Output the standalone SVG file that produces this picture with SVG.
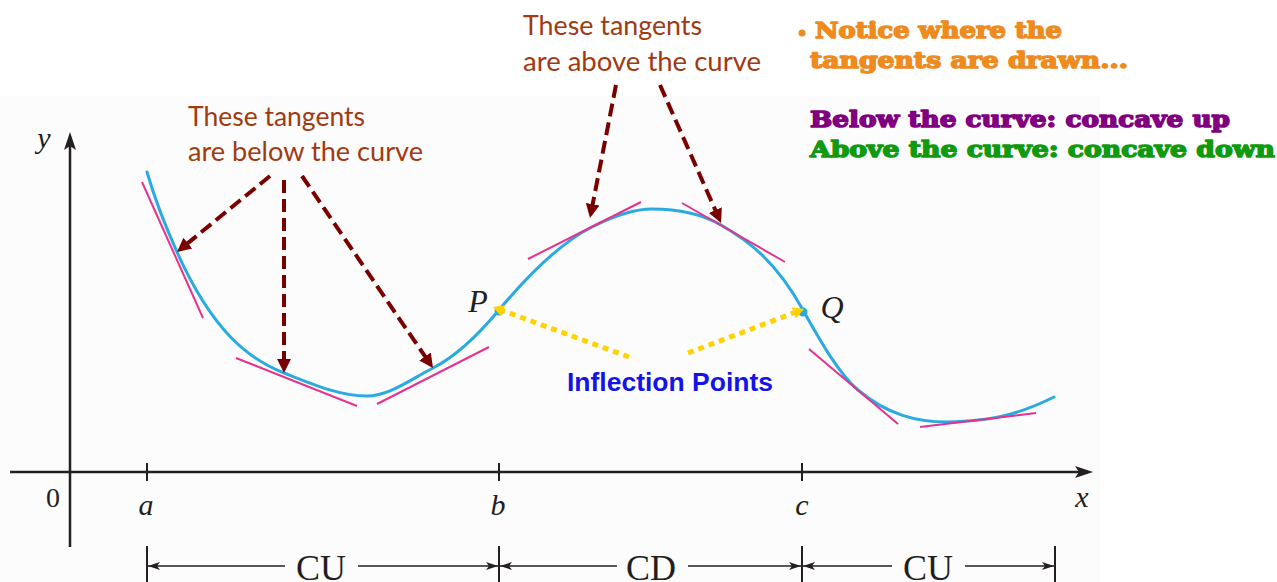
<svg xmlns="http://www.w3.org/2000/svg" width="1277" height="582" viewBox="0 0 1277 582">
<defs>
<style>
.axis{stroke:#231f20;stroke-width:2.5;fill:none}
.tick{stroke:#231f20;stroke-width:2;fill:none}
.dim{stroke:#231f20;stroke-width:1.6;fill:none}
.curve{stroke:#29aae1;stroke-width:3;fill:none;stroke-linecap:round}
.tan{stroke:#e6328c;stroke-width:2;fill:none}
.darr{stroke:#7a0000;stroke-width:4;fill:none;stroke-dasharray:13 6}
.yarr{stroke:#ffd200;stroke-width:5;fill:none;stroke-dasharray:6 5}
.math{font-family:"Liberation Serif","Times New Roman",serif;fill:#231f20}
.lbl{font-family:Lato,"Open Sans",sans-serif;font-size:26px;fill:#a13a10}
.note{font-family:"DejaVu Serif",serif;font-weight:bold;font-size:22px;stroke-width:1.5;stroke-linejoin:round;paint-order:stroke}
</style>
<marker id="mdark" markerUnits="userSpaceOnUse" markerWidth="16" markerHeight="16" viewBox="0 0 16 16" refX="2" refY="8" orient="auto">
<path d="M0,1 L14,8 L0,15 z" fill="#7a0000"/>
</marker>
<marker id="myel" markerUnits="userSpaceOnUse" markerWidth="14" markerHeight="14" viewBox="0 0 14 14" refX="2" refY="7" orient="auto">
<path d="M0,1 L11,7 L0,13 z" fill="#ffd200"/>
</marker>
<marker id="maxis" markerUnits="userSpaceOnUse" markerWidth="20" markerHeight="16" viewBox="0 0 20 16" refX="4" refY="8" orient="auto">
<path d="M0,2 L18,8 L0,14 L4,8 z" fill="#231f20"/>
</marker>
<marker id="mdim" markerUnits="userSpaceOnUse" markerWidth="14" markerHeight="10" viewBox="0 0 14 10" refX="12" refY="5" orient="auto">
<path d="M0,1 L12,5 L0,9 L3,5 z" fill="#231f20"/>
</marker>
</defs>
<rect x="0" y="0" width="1277" height="582" fill="#ffffff"/>
<rect x="0" y="96" width="1100" height="486" fill="#fcfcfc"/>

<g id="axes">
<line class="axis" x1="70" y1="547" x2="70" y2="146" marker-end="url(#maxis)"/>
<line class="axis" x1="10" y1="472" x2="1079" y2="472" marker-end="url(#maxis)"/>
<line class="tick" x1="147" y1="463" x2="147" y2="481"/>
<line class="tick" x1="499" y1="463" x2="499" y2="481"/>
<line class="tick" x1="802" y1="463" x2="802" y2="481"/>
<text class="math" x="44" y="148" font-size="30" font-style="italic" text-anchor="middle">y</text>
<text class="math" x="53" y="507" font-size="28" text-anchor="middle">0</text>
<text class="math" x="146" y="515" font-size="30" font-style="italic" text-anchor="middle">a</text>
<text class="math" x="498" y="515" font-size="30" font-style="italic" text-anchor="middle">b</text>
<text class="math" x="802" y="515" font-size="30" font-style="italic" text-anchor="middle">c</text>
<text class="math" x="1082" y="507" font-size="30" font-style="italic" text-anchor="middle">x</text>
</g>

<g id="intervals">
<line class="tick" x1="147" y1="546" x2="147" y2="582"/>
<line class="tick" x1="499" y1="546" x2="499" y2="582"/>
<line class="tick" x1="802" y1="546" x2="802" y2="582"/>
<line class="tick" x1="1055" y1="546" x2="1055" y2="582"/>
<line class="dim" x1="285" y1="566" x2="148" y2="566" marker-end="url(#mdim)"/>
<line class="dim" x1="358" y1="566" x2="498" y2="566" marker-end="url(#mdim)"/>
<line class="dim" x1="617" y1="566" x2="500" y2="566" marker-end="url(#mdim)"/>
<line class="dim" x1="688" y1="566" x2="801" y2="566" marker-end="url(#mdim)"/>
<line class="dim" x1="892" y1="566" x2="803" y2="566" marker-end="url(#mdim)"/>
<line class="dim" x1="965" y1="566" x2="1054" y2="566" marker-end="url(#mdim)"/>
<text class="math" x="321" y="580" font-size="36" text-anchor="middle">CU</text>
<text class="math" x="651" y="580" font-size="36" text-anchor="middle">CD</text>
<text class="math" x="928" y="580" font-size="36" text-anchor="middle">CU</text>
</g>

<g id="curve">
<path class="curve" d="M147,172 C157,207 167,229.7 177,252 C212.7,331.5 248.3,358.8 284,373 C311.7,384 339.3,396 367,396 C389,396 411,379.2 433,368 C455,356.8 477,336.4 499,310 C530,272.8 561,242.6 592,227 C612,216.9 632,209 652,209 C675,209 698,211.8 721,225 C748.3,240.7 775.7,260.8 803,310 C821.3,343 839.7,374.5 858,390 C887.7,415 917.3,422 947,422 C959.7,422 972.3,420.7 985,419.2 C1008,416.4 1031,408.5 1054,397"/>
<circle cx="499" cy="311" r="4.5" fill="#29aae1"/>
<circle cx="803" cy="312" r="4.5" fill="#29aae1"/>
<text class="math" x="478" y="312" font-size="32" font-style="italic" text-anchor="middle">P</text>
<text class="math" x="832" y="318" font-size="32" font-style="italic" text-anchor="middle">Q</text>
</g>

<g id="tangents">
<line class="tan" x1="142" y1="182" x2="203" y2="318"/>
<line class="tan" x1="236" y1="358" x2="357" y2="406"/>
<line class="tan" x1="377" y1="404" x2="489" y2="347"/>
<line class="tan" x1="528" y1="259" x2="641" y2="202"/>
<line class="tan" x1="682" y1="203" x2="785" y2="262"/>
<line class="tan" x1="809" y1="349" x2="898" y2="424"/>
<line class="tan" x1="920" y1="427" x2="1036" y2="413"/>
</g>

<g id="connectors">
<line class="darr" x1="270" y1="176" x2="186.3" y2="244.4" marker-end="url(#mdark)"/>
<line class="darr" x1="284" y1="180" x2="284" y2="361" marker-end="url(#mdark)"/>
<line class="darr" x1="302" y1="176" x2="426.2" y2="358.1" marker-end="url(#mdark)"/>
<line class="darr" x1="616" y1="85" x2="592.3" y2="206.2" marker-end="url(#mdark)"/>
<line class="darr" x1="660" y1="85" x2="716.2" y2="212" marker-end="url(#mdark)"/>
<line class="yarr" x1="629" y1="357" x2="501.4" y2="310.1" marker-end="url(#myel)"/>
<line class="yarr" x1="688" y1="353" x2="795.6" y2="312.2" marker-end="url(#myel)"/>
</g>

<g id="label-below">
<text class="lbl" x="188" y="126" textLength="177" lengthAdjust="spacingAndGlyphs">These tangents</text>
<text class="lbl" x="188" y="161" textLength="235" lengthAdjust="spacingAndGlyphs">are below the curve</text>
</g>
<g id="label-above">
<text class="lbl" x="523" y="35" textLength="179" lengthAdjust="spacingAndGlyphs">These tangents</text>
<text class="lbl" x="523" y="71" textLength="238" lengthAdjust="spacingAndGlyphs">are above the curve</text>
</g>
<g id="label-inflection">
<text x="567" y="391" font-family="Liberation Sans,Arial,sans-serif" font-weight="bold" font-size="25" fill="#1414e6" textLength="206" lengthAdjust="spacingAndGlyphs">Inflection Points</text>
</g>
<g id="notes">
<circle cx="802" cy="33" r="3.5" fill="#ef8a1e"/>
<text class="note" x="815" y="38" fill="#ef8a1e" stroke="#ef8a1e" textLength="247" lengthAdjust="spacingAndGlyphs">Notice where the</text>
<text class="note" x="810" y="68" fill="#ef8a1e" stroke="#ef8a1e" textLength="318" lengthAdjust="spacingAndGlyphs">tangents are drawn...</text>
<text class="note" x="810" y="127" fill="#800080" stroke="#800080" textLength="420" lengthAdjust="spacingAndGlyphs">Below the curve: concave up</text>
<text class="note" x="810" y="157" fill="#109a10" stroke="#109a10" textLength="465" lengthAdjust="spacingAndGlyphs">Above the curve: concave down</text>
</g>
</svg>
